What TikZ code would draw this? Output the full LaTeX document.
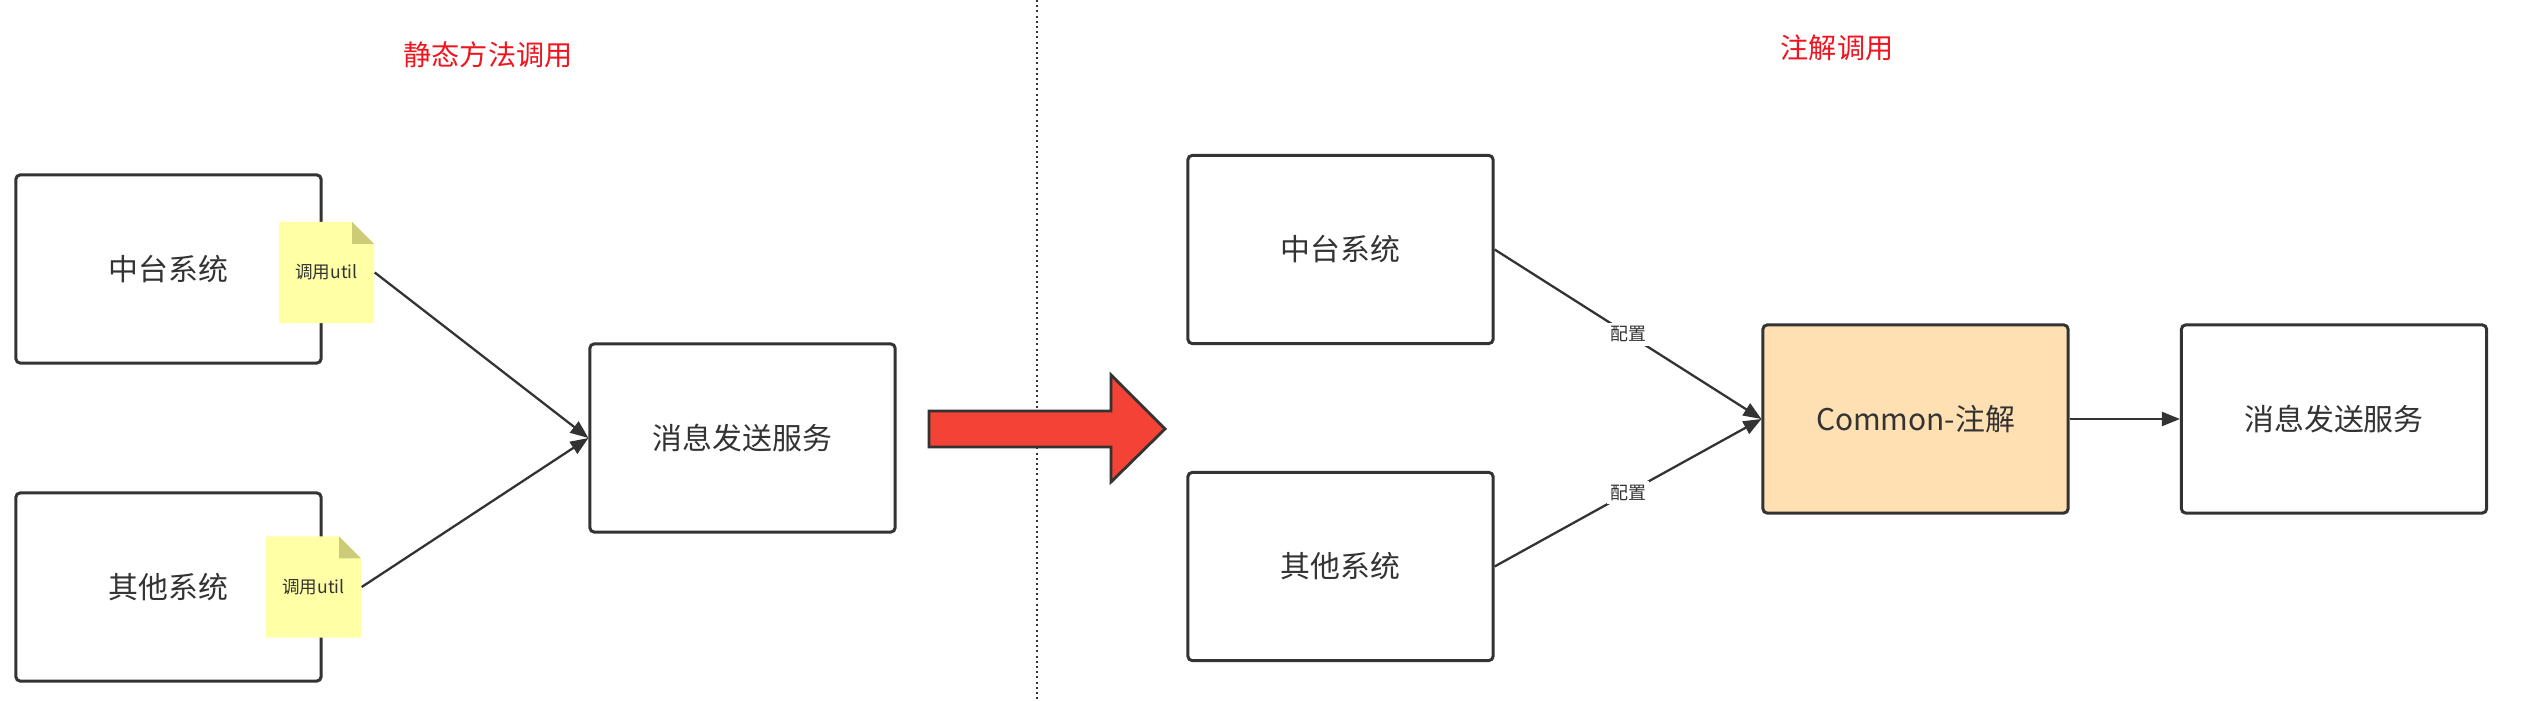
\documentclass[tikz,border=0pt]{standalone}
\usepackage{fontspec}
\setmainfont{Noto Sans CJK SC}
\definecolor{linegray}{RGB}{51,51,51}
\definecolor{notefill}{RGB}{255,255,166}
\definecolor{notefold}{RGB}{204,204,120}
\definecolor{annofill}{RGB}{255,224,178}
\definecolor{arrowred}{RGB}{244,67,54}
\definecolor{titlered}{RGB}{240,20,30}
\usetikzlibrary{arrows.meta}

\tikzset{
  sysbox/.style={draw=linegray, line width=0.85pt, rounded corners=1.2pt, fill=white,
    minimum width=3.05cm, minimum height=1.88cm, inner sep=0pt,
    font=\fontsize{8.5}{10}\selectfont, text=linegray},
  notebox/.style={minimum width=0.95cm, minimum height=1.01cm, inner sep=0pt,
    font=\fontsize{5}{6}\selectfont, text=linegray,
    path picture={
      \fill[notefill] (path picture bounding box.north west)
        -- ([xshift=-0.22cm]path picture bounding box.north east)
        -- ([yshift=-0.22cm]path picture bounding box.north east)
        -- (path picture bounding box.south east)
        -- (path picture bounding box.south west) -- cycle;
      \fill[notefold] ([xshift=-0.22cm]path picture bounding box.north east)
        -- ([xshift=-0.22cm,yshift=-0.22cm]path picture bounding box.north east)
        -- ([yshift=-0.22cm]path picture bounding box.north east) -- cycle;
    }},
  conn/.style={draw=linegray, line width=0.65pt, -{Triangle[length=0.18cm,width=0.14cm]}},
  cfglabel/.style={fill=white, inner sep=1pt, font=\fontsize{5.1}{6}\selectfont, text=linegray},
  titletext/.style={font=\fontsize{8}{10}\selectfont, text=titlered}
}

\begin{document}
\begin{tikzpicture}[x=0.01cm, y=-0.01cm]
  \useasboundingbox (0,0) rectangle (2525,701);
  % Titles
  \node[titletext] (titlestatic) at (488,55) {静态方法调用};
  \node[titletext] (titleanno) at (1837,48) {注解调用};
  % Separator (drawn first so the big arrow covers it)
  \draw[linegray, line width=0.55pt, dash pattern=on 0.02cm off 0.032cm] (1037,0) -- (1037,701);
  % Left: static call
  \node[sysbox] (midleft) at (168.5,269) {中台系统};
  \node[sysbox] (otherleft) at (168.5,587) {其他系统};
  \node[sysbox] (msgleft) at (742.5,438) {消息发送服务};
  \node[notebox] (utilup) at (326.5,272.5) {调用util};
  \node[notebox] (utildown) at (313.5,587) {调用util};
  \draw[conn] (utilup.east) -- (msgleft.west);
  \draw[conn] (utildown.east) -- (msgleft.west);
  % Big arrow
  \filldraw[fill=arrowred, draw=linegray, line width=0.8pt, line join=miter]
    (929,411) -- (1111,411) -- (1111,375) -- (1165,429) -- (1111,482)
    -- (1111,447) -- (929,447) -- cycle;
  % Right: annotation call
  \node[sysbox] (midright) at (1340.5,249.5) {中台系统};
  \node[sysbox] (otherright) at (1340.5,566.5) {其他系统};
  \node[sysbox, fill=annofill] (common) at (1915.5,419) {Common-注解};
  \node[sysbox] (msgright) at (2334,419) {消息发送服务};
  \draw[conn] (midright.east) -- node[cfglabel] {配置} (common.west);
  \draw[conn] (otherright.east) -- node[cfglabel] {配置} (common.west);
  \draw[conn] (common.east) -- (msgright.west);
\end{tikzpicture}
\end{document}
